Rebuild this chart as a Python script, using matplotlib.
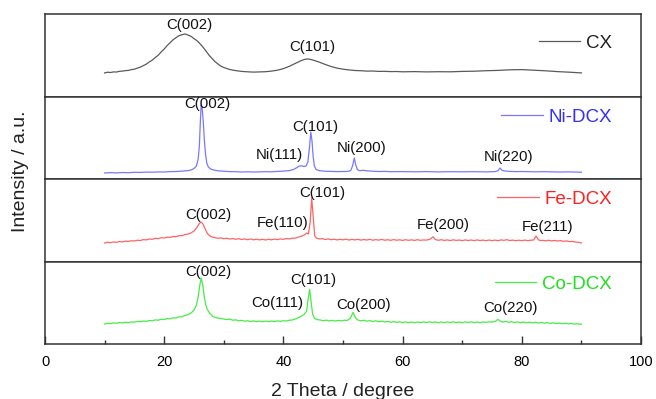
import matplotlib
matplotlib.use("Agg")
import matplotlib.pyplot as plt
from matplotlib.ticker import MultipleLocator

plt.rcParams['font.family'] = ['Liberation Sans', 'DejaVu Sans']

# ---------------- data: 2-theta (deg) and relative intensity ----------------
cx_2theta = [10, 10.5, 11, 11.5, 12, 12.5, 13, 13.5, 14, 14.5, 15, 15.5, 16, 16.5, 17, 17.5,
             18, 18.5, 19, 19.5, 20, 20.5, 21, 21.5, 22, 22.5, 23, 23.5, 24, 24.5, 25, 25.5,
             26, 26.5, 27, 27.5, 28, 28.5, 29, 29.5, 30, 31, 32, 33, 34, 35, 36, 37, 38, 39,
             40, 41, 42, 43, 43.5, 44, 44.5, 45, 46, 47, 48, 49, 50, 51, 52, 53, 54, 55, 56,
             57, 58, 59, 60, 62, 64, 66, 68, 70, 72, 74, 76, 78, 80, 82, 84, 86, 88, 90]
cx_intensity = [23.6, 24.3, 24.0, 24.6, 24.5, 25.2, 25.4, 25.9, 26.1, 26.9, 27.3, 28.4, 29.4,
                30.9, 32.4, 34.6, 36.4, 39.0, 41.3, 44.6, 47.4, 51.0, 53.8, 56.8, 58.9, 60.9,
                61.8, 62.6, 61.4, 60.2, 57.9, 55.8, 52.8, 49.4, 45.6, 41.5, 38.2, 35.0, 32.6,
                30.4, 29.0, 27.0, 25.9, 25.1, 24.7, 24.4, 24.6, 24.8, 25.4, 26.3, 27.9, 30.2,
                33.1, 35.9, 37.0, 37.6, 37.2, 36.4, 34.4, 32.1, 30.0, 28.4, 27.3, 26.6, 26.0,
                25.8, 25.4, 25.5, 25.1, 25.2, 24.9, 25.0, 24.7, 24.9, 24.6, 24.8, 24.7, 25.1,
                25.3, 25.8, 26.1, 26.7, 26.9, 26.3, 25.7, 24.9, 24.3, 23.6]

ni_2theta = [10, 11, 12, 13, 14, 15, 16, 17, 18, 19, 20, 21, 22, 23, 24, 24.5, 25, 25.4, 25.7,
             25.9, 26.05, 26.2, 26.35, 26.55, 26.75, 26.95, 27.15, 27.4, 27.8, 28.3, 29, 30, 31,
             32, 33, 34, 35, 36, 37, 38, 39, 40, 41, 41.7, 42.2, 42.6, 43.0, 43.4, 43.8, 44.1,
             44.35, 44.6, 44.8, 45.0, 45.2, 45.5, 46, 47, 48, 49, 50, 50.8, 51.3, 51.6, 51.9,
             52.15, 52.4, 52.8, 53.4, 54, 55, 56, 57, 58, 60, 62, 64, 66, 68, 70, 72, 74, 75.5,
             76.0, 76.35, 76.7, 77.2, 78, 79, 80, 82, 84, 86, 88, 90]
ni_intensity = [6.0, 6.4, 6.1, 6.5, 6.3, 6.7, 6.6, 6.9, 6.8, 7.1, 7.0, 7.4, 7.5, 7.9, 8.4, 9.0,
                10.5, 13, 20, 33, 55, 74, 72, 58, 38, 24, 16, 12, 10, 9.0, 8.2, 7.8, 7.4,
                7.3, 7.0, 7.2, 7.0, 7.1, 7.3, 7.2, 7.6, 7.9, 8.4, 9.5, 11.2, 12.8, 13.2, 12.6,
                13.0, 17, 30, 47, 38, 22, 13, 9.5, 8.4, 7.8, 7.6, 7.4, 7.5, 7.6, 8.5, 13, 21,
                14, 9.5, 8.3, 8.7, 8.2, 7.8, 7.5, 7.6, 7.3, 7.4, 7.2, 7.4, 7.1, 7.3, 7.2, 7.3,
                7.1, 7.4, 8.2, 11, 8.6, 8.0, 7.6, 7.4, 7.5, 7.2, 7.3, 7.0, 7.1, 6.8]

fe_2theta = [10, 10.5, 11, 11.5, 12, 12.5, 13, 13.5, 14, 14.5, 15, 15.5, 16, 16.5, 17, 17.5,
             18, 18.5, 19, 19.5, 20, 20.5, 21, 21.5, 22, 22.5, 23, 23.5, 24, 24.5, 25, 25.5,
             25.9, 26.2, 26.5, 26.8, 27.2, 27.6, 28, 28.5, 29, 29.5, 30, 30.5, 31, 31.5, 32,
             32.5, 33, 33.5, 34, 34.5, 35, 35.5, 36, 36.5, 37, 37.5, 38, 38.5, 39, 39.5, 40,
             40.5, 41, 41.5, 42, 42.5, 43, 43.5, 43.9, 44.2, 44.5, 44.75, 45.0, 45.25, 45.5,
             46, 46.5, 47, 47.5, 48, 48.5, 49, 49.5, 50, 50.5, 51, 51.5, 52, 52.5, 53, 53.5,
             54, 54.5, 55, 55.5, 56, 56.5, 57, 57.5, 58, 58.5, 59, 59.5, 60, 60.5, 61, 61.5,
             62, 62.5, 63, 63.5, 64, 64.6, 65.1, 65.5, 66, 66.5, 67, 67.5, 68, 68.5, 69, 69.5,
             70, 70.5, 71, 71.5, 72, 72.5, 73, 73.5, 74, 74.5, 75, 75.5, 76, 76.5, 77, 77.5,
             78, 78.5, 79, 79.5, 80, 80.5, 81, 81.5, 82, 82.4, 82.8, 83.2, 83.5, 84, 84.5, 85,
             85.5, 86, 86.5, 87, 87.5, 88, 88.5, 89, 89.5, 90]
fe_intensity = [18.5, 19.3, 18.9, 19.6, 19.2, 20.0, 19.6, 20.4, 20.1, 20.8, 20.5, 21.3, 21.0,
                21.9, 21.6, 22.5, 22.2, 23.2, 22.9, 23.8, 23.5, 24.4, 24.1, 25.1, 24.8, 25.9,
                25.8, 27.0, 27.4, 28.6, 30.5, 34.0, 38.0, 39.5, 37.5, 33.5, 28.5, 25.8, 24.6,
                23.9, 23.2, 23.6, 22.8, 23.3, 22.5, 23.0, 22.2, 22.8, 22.0, 22.6, 21.8, 22.5,
                21.7, 22.3, 21.6, 22.2, 21.5, 22.3, 21.7, 22.4, 21.9, 22.6, 22.2, 22.9, 22.6,
                23.4, 23.3, 24.4, 25.2, 26.5, 28.5, 27.5, 40, 63.5, 45, 26, 23.5, 22.6, 22.9,
                22.0, 22.6, 21.8, 22.3, 21.6, 22.2, 21.7, 22.4, 21.5, 22.1, 21.6, 22.2, 21.4,
                22.0, 21.5, 22.2, 21.3, 21.9, 21.4, 22.1, 21.3, 21.8, 21.2, 21.9, 21.3, 21.7,
                21.1, 21.8, 21.2, 21.7, 21.1, 21.8, 21.2, 21.6, 21.4, 22.3, 24.7, 22.0, 21.2,
                21.8, 21.1, 21.6, 21.0, 21.7, 21.1, 21.5, 20.9, 21.6, 21.0, 21.5, 20.9, 21.6,
                21.0, 21.4, 20.8, 21.5, 20.9, 21.4, 20.8, 21.6, 21.2, 21.8, 21.0, 21.4, 20.8,
                21.3, 20.9, 21.4, 20.9, 21.3, 21.5, 25.5, 21.6, 20.9, 21.2, 20.7, 21.3, 20.6,
                21.1, 20.5, 20.9, 20.2, 20.6, 19.9, 20.1, 19.5, 19.2, 18.6]

co_2theta = [10, 10.5, 11, 11.5, 12, 12.5, 13, 13.5, 14, 14.5, 15, 15.5, 16, 16.5, 17, 17.5,
             18, 18.5, 19, 19.5, 20, 20.5, 21, 21.5, 22, 22.5, 23, 23.5, 24, 24.5, 25, 25.4,
             25.7, 25.95, 26.2, 26.45, 26.7, 26.95, 27.2, 27.6, 28.2, 28.8, 29.5, 30, 30.5, 31,
             31.5, 32, 32.5, 33, 33.5, 34, 34.5, 35, 35.5, 36, 36.5, 37, 37.5, 38, 38.5, 39,
             39.5, 40, 40.5, 41, 41.5, 42, 42.5, 43, 43.5, 43.9, 44.15, 44.4, 44.65, 44.9, 45.2,
             45.6, 46.2, 46.7, 47.2, 47.7, 48.2, 48.7, 49.2, 49.7, 50.2, 50.7, 51.2, 51.7, 52.1,
             52.5, 53, 53.5, 54, 54.5, 55, 55.5, 56, 56.5, 57, 57.5, 58, 58.5, 59, 59.5, 60,
             60.5, 61, 61.5, 62, 62.5, 63, 63.5, 64, 64.5, 65, 65.5, 66, 66.5, 67, 67.5, 68,
             68.5, 69, 69.5, 70, 70.5, 71, 71.5, 72, 72.5, 73, 73.5, 74, 74.5, 75, 75.6, 76.0,
             76.4, 76.8, 77.3, 77.8, 78.3, 78.8, 79.3, 79.8, 80.3, 80.8, 81.3, 81.8, 82.3, 82.8,
             83.3, 83.8, 84.3, 84.8, 85.3, 85.8, 86.3, 86.8, 87.3, 87.8, 88.3, 88.8, 89.3, 89.8,
             90]
co_intensity = [20.0, 20.8, 20.4, 21.1, 20.8, 21.5, 21.1, 21.8, 21.4, 22.1, 21.8, 22.6, 22.2,
                23.0, 22.7, 23.5, 23.2, 24.1, 23.8, 24.8, 24.5, 25.4, 25.1, 26.2, 26.0, 27.2,
                27.3, 28.6, 29.4, 31.0, 34.0, 39.0, 47, 58, 66, 60, 48, 40, 35, 31, 27.3, 26.2,
                25.6, 25.0, 24.4, 24.9, 23.8, 24.2, 23.2, 23.7, 22.8, 23.3, 22.5, 23.1, 22.4,
                23.0, 22.3, 22.9, 22.4, 23.0, 22.5, 23.1, 22.7, 23.3, 23.0, 23.8, 24.0, 25.0,
                26.3, 27.8, 29.7, 33, 45, 54.7, 42, 30, 26, 24.5, 24.0, 23.3, 23.9, 23.1, 23.7,
                23.0, 23.6, 23.1, 23.8, 23.6, 25.5, 31.7, 26.0, 24.0, 23.2, 23.8, 22.8, 23.4,
                22.5, 23.2, 22.3, 22.9, 22.0, 22.7, 21.8, 22.4, 21.6, 22.2, 21.5, 22.1, 21.4,
                22.0, 21.3, 22.0, 21.4, 22.1, 21.5, 22.2, 21.4, 22.1, 21.3, 22.0, 21.4, 22.1,
                21.5, 22.2, 21.4, 22.0, 21.3, 22.1, 21.5, 22.2, 21.4, 22.0, 21.3, 22.1, 21.6,
                22.2, 21.9, 22.8, 24.7, 22.8, 22.0, 22.6, 21.7, 22.3, 21.5, 22.1, 21.3, 22.0,
                21.2, 21.9, 21.1, 21.7, 20.9, 21.6, 20.8, 21.4, 20.6, 21.2, 20.5, 21.0, 20.3,
                20.8, 20.1, 20.6, 19.9, 20.3, 19.7, 20.0]

samples = ['CX', 'Ni-DCX', 'Fe-DCX', 'Co-DCX']

# reflection labels per sample: (text, 2-theta position, height)
cx_peaks = [('C(002)', 24.2, 71.5), ('C(101)', 44.8, 50)]
ni_peaks = [('C(002)', 27.2, 75), ('C(101)', 45.3, 52), ('Ni(111)', 39.4, 24),
            ('Ni(200)', 53.2, 31), ('Ni(220)', 77.7, 22)]
fe_peaks = [('C(002)', 27.4, 46.5), ('Fe(110)', 39.8, 38.5), ('C(101)', 46.5, 68.5),
            ('Fe(200)', 66.8, 36.5), ('Fe(211)', 84.3, 34.5)]
co_peaks = [('C(002)', 27.4, 72), ('C(101)', 45.0, 64), ('Co(111)', 39.0, 41),
            ('Co(200)', 53.4, 39), ('Co(220)', 78.1, 36)]

# ---------------- figure ----------------
fig = plt.figure(figsize=(6.56, 3.99), dpi=100)
gs = fig.add_gridspec(4, 1, left=0.0686, right=0.9771, bottom=0.1378, top=0.9649, hspace=0)
axes = [fig.add_subplot(gs[i]) for i in range(4)]

series = [(cx_2theta, cx_intensity, cx_peaks),
          (ni_2theta, ni_intensity, ni_peaks),
          (fe_2theta, fe_intensity, fe_peaks),
          (co_2theta, co_intensity, co_peaks)]
line_colors = ['#5a5a5a', '#7878ff', '#ff6464', '#44ee44']
text_colors = ['#222222', '#3030ff', '#ff2020', '#1ee01e']
legend_y = [0.648, 0.752, 0.758, 0.727]

for i, ax in enumerate(axes):
    x, y, peaks = series[i]
    ax.plot(x, y, color=line_colors[i], lw=0.9, label=samples[i])
    ax.set_xlim(0, 100)
    ax.set_ylim(0, 82.5)
    ax.set_yticks([])
    for s in ax.spines.values():
        s.set_color('#333333')
        s.set_linewidth(1.1)
    for label, px, py in peaks:
        ax.text(px, py, label, ha='center', va='center', fontsize=10.8, color='#111111')
    ax.legend(loc='center right', bbox_to_anchor=(0.951, legend_y[i]), frameon=False,
              fontsize=13.5, handlelength=2.2, handletextpad=0.3, borderpad=0,
              borderaxespad=0, labelcolor=text_colors[i])
    if i < 3:
        ax.tick_params(axis='x', which='both', bottom=False, labelbottom=False)

bottom_ax = axes[-1]
bottom_ax.xaxis.set_major_locator(MultipleLocator(20))
bottom_ax.xaxis.set_minor_locator(MultipleLocator(10))
bottom_ax.tick_params(axis='x', which='major', direction='in', length=6, width=1.0,
                      color='#333333', labelsize=10.5, pad=8)
bottom_ax.tick_params(axis='x', which='minor', direction='in', length=3, width=1.0,
                      color='#333333')
bottom_ax.set_xlabel('2 Theta / degree', fontsize=14, color='#222222', labelpad=10)

fig.text(0.031, 0.57, 'Intensity / a.u.', rotation=90, ha='center', va='center',
         fontsize=14, color='#222222')

fig.savefig('out.png', dpi=100)
